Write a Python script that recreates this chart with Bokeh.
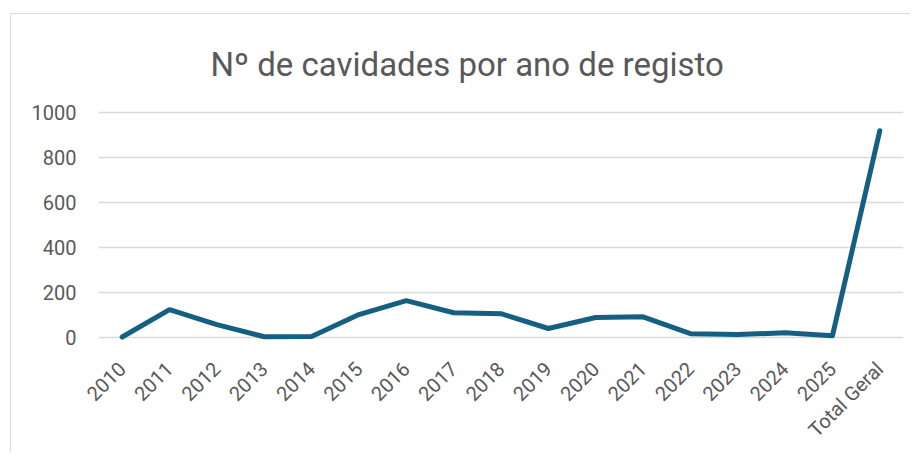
import math
from bokeh.plotting import figure
from bokeh.models import Range1d, FactorRange, FixedTicker
from bokeh.embed import file_html
from bokeh.resources import INLINE

anos = ["2010", "2011", "2012", "2013", "2014", "2015", "2016", "2017", "2018",
        "2019", "2020", "2021", "2022", "2023", "2024", "2025", "Total Geral"]
cavidades = [0, 122, 55, 1, 2, 100, 162, 108, 104, 38, 87, 90, 15, 11, 19, 6, 920]
y_ticks = [0, 200, 400, 600, 800, 1000]
titulo = "Nº de cavidades por ano de registo"

TXT = "#595959"

p = figure(
    x_range=FactorRange(factors=anos, range_padding=0),
    y_range=Range1d(-20, 1010),
    width=900, height=439,
    output_backend="svg", toolbar_location=None,
    min_border_left=87, min_border_right=8,
    min_border_top=96, min_border_bottom=111,
)
p.margin = (13, 0, 0, 10)
p.styles = {"border-left": "1px solid #d9d9d9", "border-top": "1px solid #d9d9d9"}

p.title.text = titulo
p.title.align = "left"
p.title.offset = 112
p.title.text_font = "Roboto"
p.title.text_font_size = "33px"
p.title.text_font_style = "normal"
p.title.text_color = TXT
p.title.standoff = 54

p.line(x=anos, y=cavidades, line_color="#156082", line_width=5,
       line_cap="round", line_join="round")

p.outline_line_color = None
p.xgrid.visible = False
p.ygrid.ticker = FixedTicker(ticks=y_ticks)
p.ygrid.grid_line_color = "#d9d9d9"
p.ygrid.grid_line_width = 1.5

p.yaxis.ticker = FixedTicker(ticks=y_ticks)
for ax in (p.xaxis, p.yaxis):
    ax.axis_line_color = None
    ax.major_tick_line_color = None
    ax.minor_tick_line_color = None
    ax.major_label_text_font = "Roboto"
    ax.major_label_text_font_size = "20px"
    ax.major_label_text_color = TXT
p.yaxis.major_label_standoff = 16
p.xaxis.major_label_orientation = math.pi / 4
p.xaxis.major_label_standoff = 18

open("out.html", "w").write(file_html(p, INLINE))
